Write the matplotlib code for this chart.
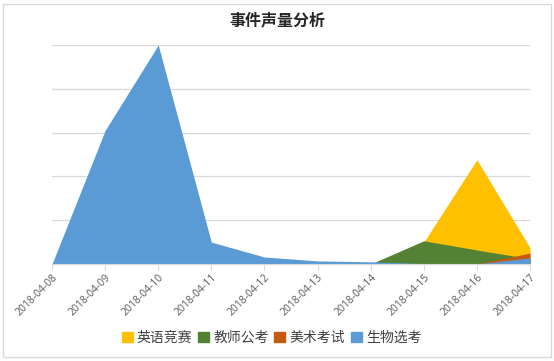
import matplotlib.pyplot as plt
import matplotlib.patches as mpatches
import numpy as np

plt.rcParams['font.family'] = ['Noto Sans CJK SC', 'DejaVu Sans']

# ─── data (one grid step = 1) ───────────────────────────────────────────────
dates = ['2018-04-08', '2018-04-09', '2018-04-10', '2018-04-11', '2018-04-12',
         '2018-04-13', '2018-04-14', '2018-04-15', '2018-04-16', '2018-04-17']
series_names = ['英语竞赛', '教师公考', '美术考试', '生物选考']
english = [0, 0, 0, 0, 0, 0, 0, 0.50, 2.38, 0.37]
teacher = [0, 0, 0, 0, 0, 0, 0, 0.53, 0.32, 0.12]
art     = [0, 0, 0, 0, 0, 0, 0, 0, 0, 0.25]
biology = [0, 3.05, 5.0, 0.50, 0.16, 0.07, 0.05, 0.01, 0.0, 0.14]
colors = ['#FFC000', '#548235', '#C55A11', '#5B9BD5']

# ─── plot ───────────────────────────────────────────────────────────────────
W, H = 554, 361
fig = plt.figure(figsize=(W / 100, H / 100), dpi=100)
ax = fig.add_axes([52 / W, 1 - 264 / H, (530 - 52) / W, (264 - 45) / H])

x = np.arange(len(dates))
for vals, name, c in zip([english, teacher, art, biology], series_names, colors):
    ax.fill_between(x, 0, vals, color=c, linewidth=0, label=name)

ax.set_xlim(0, len(dates) - 1)
ax.set_ylim(0, 5)
ax.set_yticks(np.arange(0, 6, 1))
ax.yaxis.grid(True, color='#d9d9d9', linewidth=0.9)
ax.set_axisbelow(True)
ax.tick_params(axis='y', left=False, labelleft=False)

ax.set_xticks(x)
ax.set_xticklabels(dates, rotation=45, ha='right', rotation_mode='anchor',
                   fontsize=7.5, color='#595959', family=['Open Sans', 'DejaVu Sans'])
ax.tick_params(axis='x', length=4, color='#d9d9d9', pad=2)

for side in ['top', 'right', 'left']:
    ax.spines[side].set_visible(False)
ax.spines['bottom'].set_color('#d9d9d9')

fig.text(0.5, 1 - 20 / H, '事件声量分析', ha='center', va='center',
         fontsize=11.5, fontweight='bold', color='#262626')

handles = [mpatches.Patch(color=c, label=n) for n, c in zip(series_names, colors)]
fig.legend(handles=handles, loc='center', bbox_to_anchor=(0.49, 1 - 338 / H),
           ncol=4, frameon=False, fontsize=10, handlelength=0.8, handleheight=0.8,
           handletextpad=0.3, columnspacing=0.4, labelcolor='#404040')

fig.patches.append(mpatches.Rectangle((3 / W, 4 / H), 548 / W, 353 / H,
                                      transform=fig.transFigure, fill=False,
                                      edgecolor='#d9d9d9', linewidth=1))

fig.savefig('out.png', dpi=100)
